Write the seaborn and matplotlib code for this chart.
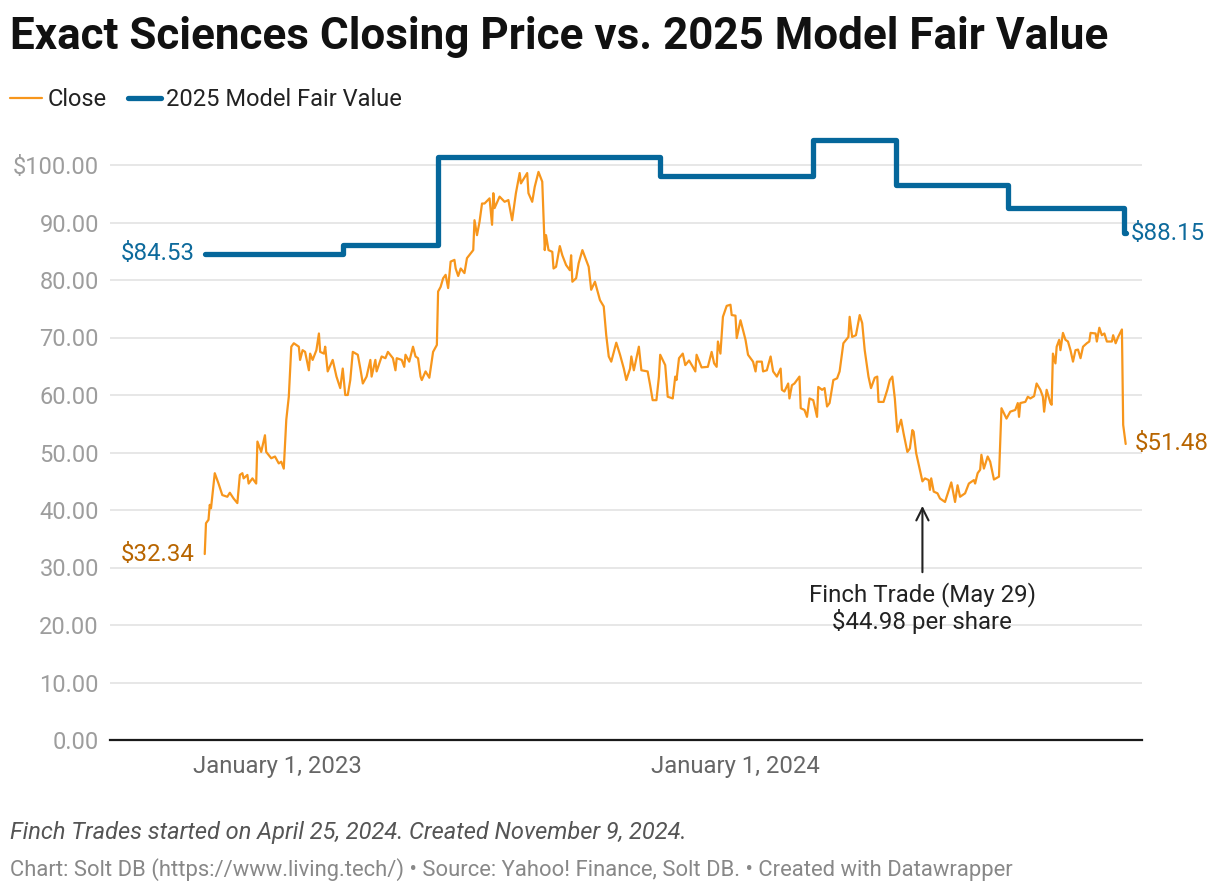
import numpy as np
import pandas as pd
import matplotlib
matplotlib.use("Agg")
import matplotlib.pyplot as plt
import seaborn as sns

# ---- data (days relative to 2023-01-01) ----
close_days = [-58, -57, -55, -54, -53, -50, -47, -44, -40, -38, -35, -32, -30, -28, -27, -24, -23, -20, -17, -16,
              -13, -10, -9, -5, -2, 1, 3, 5, 7, 9, 11, 13, 17, 18, 20, 22, 25, 26, 28, 31,
              33, 34, 37, 38, 40, 44, 47, 50, 52, 54, 56, 58, 60, 64, 66, 68, 71, 74, 75, 78,
              79, 83, 86, 88, 92, 94, 95, 99, 101, 102, 105, 108, 110, 112, 114, 115, 118, 121, 124, 127,
              128, 130, 132, 134, 136, 138, 141, 142, 144, 146, 149, 151, 156, 157, 159, 161, 163, 165, 169, 171,
              172, 173, 177, 181, 184, 187, 190, 193, 194, 199, 200, 203, 205, 208, 211, 213, 214, 216, 219, 220,
              222, 225, 227, 230, 233, 234, 235, 238, 240, 243, 248, 250, 253, 257, 260, 262, 264, 266, 270, 273,
              276, 278, 281, 282, 284, 288, 290, 295, 297, 299, 302, 304, 305, 309, 311, 315, 317, 318, 320, 323,
              325, 328, 331, 333, 334, 338, 343, 346, 348, 350, 351, 353, 355, 358, 361, 362, 365, 366, 369, 373,
              375, 379, 381, 382, 386, 387, 390, 393, 395, 398, 401, 402, 404, 407, 408, 410, 412, 416, 417, 420,
              422, 424, 427, 430, 431, 434, 436, 438, 440, 443, 446, 448, 451, 455, 456, 458, 461, 464, 466, 468,
              471, 473, 476, 478, 479, 483, 486, 488, 490, 492, 494, 497, 499, 502, 504, 506, 507, 509, 512, 514,
              516, 519, 520, 521, 523, 526, 528, 532, 537, 540, 542, 544, 548, 551, 555, 556, 558, 560, 561, 563,
              566, 568, 571, 575, 577, 581, 584, 588, 590, 591, 592, 596, 598, 600, 603, 605, 608, 610, 611, 613,
              616, 617, 618, 620, 621, 623, 624, 626, 628, 630, 632, 634, 636, 638, 640, 642, 645, 647, 648, 652,
              653, 655, 657, 659, 661, 665, 666, 668, 670, 673, 674, 676]
close_values = [32.34, 37.7, 38.3, 40.9, 40.3, 46.4, 44.6, 42.6, 42.3, 43.0, 42.0, 41.2, 46.1, 46.4, 45.5, 46.1, 44.6, 45.5, 44.6, 51.9,
                50.1, 53.0, 50.1, 49.0, 49.3, 48.1, 48.4, 47.2, 55.7, 59.7, 68.4, 69.0, 68.4, 66.1, 67.8, 67.5, 64.3, 67.2, 66.1, 67.8,
                70.7, 67.5, 67.2, 68.4, 64.1, 66.1, 63.2, 61.2, 64.6, 60.0, 60.0, 62.6, 67.5, 67.0, 64.6, 62.0, 63.2, 66.1, 63.2, 66.1,
                64.1, 66.7, 66.4, 67.5, 66.4, 64.3, 66.4, 66.1, 64.9, 67.0, 65.8, 68.4, 66.7, 66.4, 63.2, 62.6, 64.1, 63.0, 67.5, 68.7,
                78.0, 78.8, 80.3, 80.9, 78.6, 83.2, 83.5, 82.0, 80.7, 82.0, 81.2, 83.8, 85.2, 90.4, 87.8, 90.1, 93.3, 93.3, 94.2, 89.6,
                95.1, 92.5, 94.5, 93.6, 93.9, 90.4, 95.1, 98.6, 96.8, 98.6, 95.1, 93.6, 96.2, 98.8, 97.1, 85.2, 87.8, 85.2, 84.9, 82.0,
                82.3, 85.9, 84.3, 82.6, 81.7, 84.3, 79.7, 80.3, 82.9, 85.2, 82.3, 78.3, 79.7, 76.5, 75.4, 70.4, 66.7, 65.8, 69.1, 67.0,
                64.6, 62.6, 64.6, 66.7, 64.3, 68.4, 64.3, 64.1, 61.7, 59.1, 59.1, 63.2, 67.0, 65.2, 59.7, 59.4, 63.2, 62.6, 66.4, 67.2,
                65.2, 66.0, 64.9, 64.1, 67.0, 64.8, 64.9, 67.5, 65.5, 64.9, 69.3, 67.2, 73.6, 75.5, 75.7, 73.9, 73.8, 69.9, 73.0, 69.6,
                67.0, 65.8, 64.1, 65.8, 65.8, 64.1, 64.3, 66.7, 64.1, 63.2, 64.6, 60.9, 60.6, 62.0, 59.4, 61.7, 62.0, 63.2, 57.7, 57.4,
                56.2, 59.4, 59.1, 56.2, 61.4, 60.9, 61.2, 58.0, 58.6, 62.6, 62.9, 64.1, 69.0, 70.1, 73.6, 70.1, 70.4, 73.9, 72.5, 67.8,
                63.2, 61.2, 63.0, 63.2, 58.8, 58.8, 60.9, 62.6, 63.2, 59.4, 53.6, 55.7, 53.3, 50.1, 50.7, 53.9, 53.6, 49.9, 47.0, 44.98,
                45.5, 45.2, 43.5, 45.5, 43.2, 42.9, 42.0, 41.4, 44.8, 41.4, 44.3, 42.3, 42.9, 44.6, 45.2, 44.6, 46.4, 47.0, 49.6, 47.2,
                49.3, 48.4, 45.3, 45.8, 57.7, 55.9, 57.1, 57.4, 58.6, 56.2, 58.6, 58.8, 59.7, 59.4, 59.8, 62.0, 60.9, 59.7, 57.1, 60.9,
                58.6, 58.3, 67.2, 65.5, 68.4, 69.6, 67.8, 70.8, 69.6, 69.3, 67.8, 65.8, 67.8, 67.9, 66.4, 68.4, 69.0, 69.3, 70.8, 70.7,
                69.3, 71.7, 70.4, 70.7, 69.3, 69.3, 70.4, 69.0, 70.1, 71.4, 54.8, 51.48]

fv_days = [-58, 52, 128, 305, 427, 493, 582, 675, 676]
fv_values = [84.53, 86.1, 101.4, 98.1, 104.4, 96.6, 92.6, 88.15, 88.15]

x_tick_dates = ["2023-01-01", "2024-01-01"]
x_tick_labels = ["January 1, 2023", "January 1, 2024"]
y_ticks = [0, 10, 20, 30, 40, 50, 60, 70, 80, 90, 100]
y_tick_labels = ["0.00", "10.00", "20.00", "30.00", "40.00", "50.00", "60.00", "70.00", "80.00", "90.00", "$100.00"]

finch_date = "2024-05-29"
finch_price = 44.98

base = pd.Timestamp("2023-01-01")
close_df = pd.DataFrame({"date": base + pd.to_timedelta(close_days, unit="D"), "value": close_values})
fv_df = pd.DataFrame({"date": base + pd.to_timedelta(fv_days, unit="D"), "value": fv_values})

ORANGE = "#f7961c"
BLUE = "#05679b"
BLUE_TXT = "#0d6a9c"
ORANGE_TXT = "#b86500"

sns.set_theme(style="white")
plt.rcParams['font.family'] = ['Roboto', 'DejaVu Sans']

W, H = 1220, 894
fig = plt.figure(figsize=(W / 100, H / 100), dpi=100)
ax_left, ax_right, ax_bottom, ax_top = 110, 1142, 740, 130.5
ax = fig.add_axes([ax_left / W, 1 - ax_bottom / H, (ax_right - ax_left) / W, (ax_bottom - ax_top) / H])

sns.lineplot(data=close_df, x="date", y="value", ax=ax, color=ORANGE, lw=1.6,
             label="Close", estimator=None, zorder=3)
sns.lineplot(data=fv_df, x="date", y="value", ax=ax, color=BLUE, lw=3.8,
             drawstyle="steps-post", label="2025 Model Fair Value", estimator=None,
             solid_capstyle="round", solid_joinstyle="round", zorder=4)

ax.set_ylim(0, 106)
ax.set_xlim(base + pd.Timedelta(days=-133.5), base + pd.Timedelta(days=689))
ax.set_yticks(y_ticks)
ax.set_yticklabels(y_tick_labels)
ax.set_xticks(pd.to_datetime(x_tick_dates))
ax.set_xticklabels(x_tick_labels)
ax.set_xlabel("")
ax.set_ylabel("")
ax.grid(axis="y", color="#e3e3e3", lw=1.2)
ax.grid(axis="x", visible=False)
for s in ["top", "right", "left"]:
    ax.spines[s].set_visible(False)
ax.spines["bottom"].set_color("#1a1a1a")
ax.spines["bottom"].set_linewidth(1.6)
ax.tick_params(axis="y", length=0, pad=8, labelsize=17, labelcolor="#9d9d9d")
ax.tick_params(axis="x", length=0, pad=11, labelsize=17.2, labelcolor="#666666")
ax.set_axisbelow(True)

# end labels
lbl_fs = 17.3
ax.annotate("$84.53", xy=(fv_df["date"].iloc[0], fv_values[0]), xytext=(-10, 0),
            textcoords="offset pixels", ha="right", va="center", color=BLUE_TXT, fontsize=lbl_fs)
ax.annotate("$32.34", xy=(close_df["date"].iloc[0], close_values[0]), xytext=(-10, 0),
            textcoords="offset pixels", ha="right", va="center", color=ORANGE_TXT, fontsize=lbl_fs)
ax.annotate("$88.15", xy=(fv_df["date"].iloc[-1], fv_values[-1]), xytext=(5, 0),
            textcoords="offset pixels", ha="left", va="center", color=BLUE_TXT, fontsize=lbl_fs)
ax.annotate("$51.48", xy=(close_df["date"].iloc[-1], close_values[-1]), xytext=(9, 0),
            textcoords="offset pixels", ha="left", va="center", color=ORANGE_TXT, fontsize=lbl_fs)

# Finch annotation
fd = pd.Timestamp(finch_date)
ax.annotate("", xy=(fd, 41.2), xytext=(fd, 28.7),
            arrowprops=dict(arrowstyle="->", color="#222222", lw=1.5, mutation_scale=22))
ax.text(fd, 27.5, "Finch Trade (May 29)\n$44.98 per share", ha="center", va="top",
        fontsize=lbl_fs, color="#222222", linespacing=1.12)

# legend
leg = ax.legend(loc="center left", bbox_to_anchor=(10 / W, 1 - 100 / H), bbox_transform=fig.transFigure,
                ncol=2, frameon=False, fontsize=17, handlelength=1.36, handletextpad=0.25,
                columnspacing=0.9, borderaxespad=0, borderpad=0)
for t in leg.get_texts():
    t.set_color("#222222")

# title and footer
fig.text(10 / W, 1 - 37 / H, "Exact Sciences Closing Price vs. 2025 Model Fair Value",
         fontsize=31.7, fontweight="bold", color="#111111", ha="left", va="center")
fig.text(10 / W, 1 - 833 / H, "Finch Trades started on April 25, 2024. Created November 9, 2024.",
         fontsize=17, style="italic", color="#555555", ha="left", va="center")
fig.text(10 / W, 1 - 870 / H,
         "Chart: Solt DB (https://www.living.tech/) \u2022 Source: Yahoo! Finance, Solt DB. \u2022 Created with Datawrapper",
         fontsize=15.8, color="#888888", ha="left", va="center")

fig.savefig("out.png", dpi=100, facecolor="white")
